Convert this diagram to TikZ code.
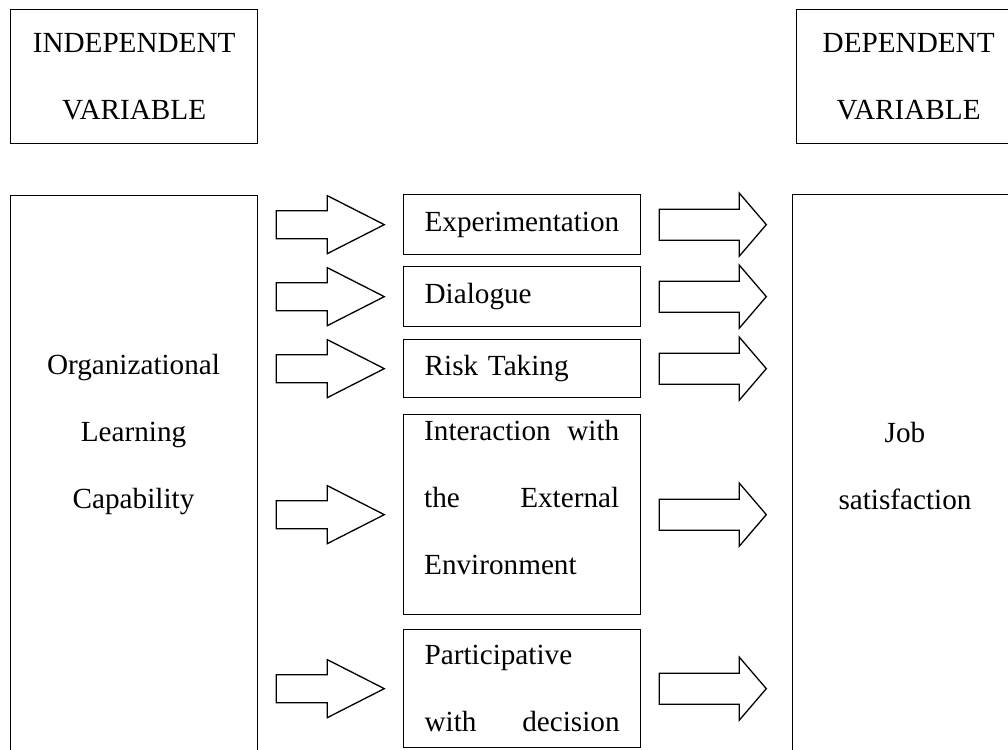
\documentclass[tikz,border=0pt]{standalone}
\usepackage{fontspec}
\setmainfont{Liberation Serif}
\usetikzlibrary{calc}

\tikzset{
  box/.style={draw, line width=1.3pt, anchor=north west, inner sep=0pt},
  varbox/.style={box, minimum height=134pt, align=center},
  factor/.style={box, text width=195pt, inner xsep=21pt, align=left},
  blockarrow/.style={draw, line width=1.3pt, line join=miter},
}

\begin{document}
\begin{tikzpicture}[x=1pt, y=-1pt, font=\fontsize{29.2pt}{67pt}\selectfont]
\useasboundingbox (0,0) rectangle (1008,749);
\clip (0,0) rectangle (1008,749);
% Headers
\node[varbox, minimum width=247pt] (indvar) at (10,9) {INDEPENDENT\\VARIABLE};
\node[varbox, minimum width=224pt] (depvar) at (796,9) {DEPENDENT\\VARIABLE};
% Independent and dependent blocks
\node[box, minimum width=247pt, minimum height=600pt] (olc) at (10,195) {};
\node[align=center] (olctext) at (133.5,435) {Organizational\\Learning\\Capability};
\node[box, minimum width=228pt, minimum height=600pt] (jobsat) at (792,194) {};
\node[align=center] (jobtext) at (905,466) {Job\\satisfaction};
% Dimensions in the middle
\node[factor, minimum height=60pt] (exper) at (403,194) {Experimentation};
\node[factor, minimum height=60pt] (dialog) at (403,266) {Dialogue};
\node[factor, minimum height=58pt] (risk) at (403,339) {Risk Taking};
\node[factor, minimum height=200pt] (interact) at (403,414) {};
\node[text width=195pt, align=left, inner sep=0pt, anchor=north west] (interacttext) at ($(interact.north west)+(21,6)$) {Interaction \hfill with\\the \hfill External\\Environment};
\node[factor, minimum height=118pt] (partic) at (403,629) {Participative\\with \hfill decision};
% Block arrows in and out
\foreach \f in {exper,dialog,risk,interact,partic} {
  \draw[blockarrow] ($(olc.east |- \f.west)+(18,0)$) ++(0,-14) -- ++(51,0) -- ++(0,-15) -- ++(57,29) -- ++(-57,29) -- ++(0,-15) -- ++(-51,0) -- cycle;
  \draw[blockarrow] ($(\f.east)+(18,0)$) ++(0,-15.5) -- ++(80,0) -- ++(0,-16) -- ++(27,31.5) -- ++(-27,31.5) -- ++(0,-16) -- ++(-80,0) -- cycle;
}
\end{tikzpicture}
\end{document}
